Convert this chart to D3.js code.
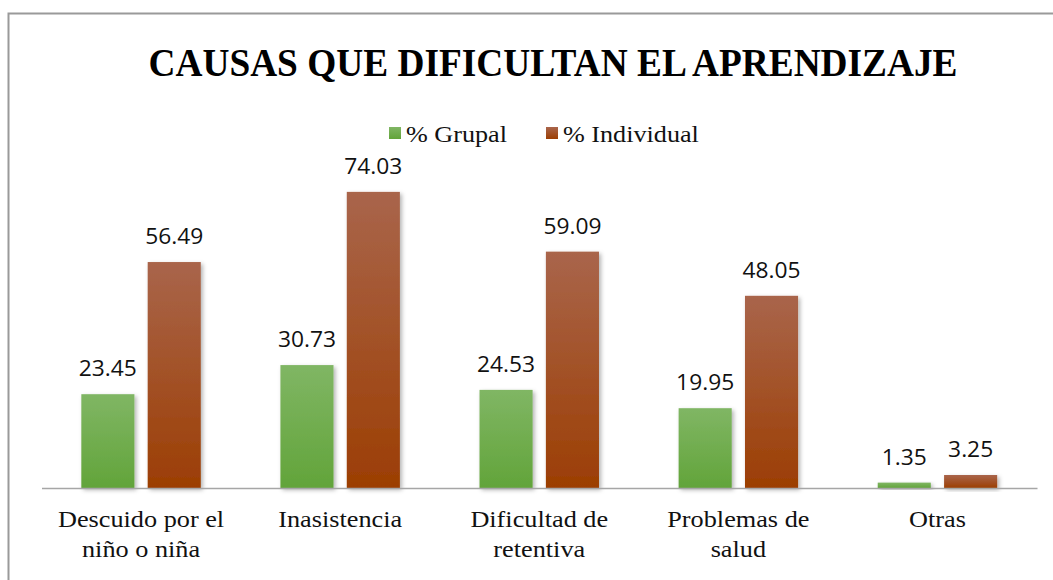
<!DOCTYPE html>
<html>
<head>
<meta charset="utf-8">
<script src="https://cdn.jsdelivr.net/npm/d3@7"></script>
<style>
  html, body { margin: 0; padding: 0; background: #fff; }
  svg { display: block; }
</style>
</head>
<body>
<svg id="chart" width="1053" height="580"></svg>
<script>
// Causes that make learning difficult, group vs. individual percentages
const categories = [["Descuido por el", "niño o niña"], ["Inasistencia"], ["Dificultad de", "retentiva"], ["Problemas de", "salud"], ["Otras"]];
const seriesNames = ["% Grupal", "% Individual"];
const grupal = [23.45, 30.73, 24.53, 19.95, 1.35];
const individual = [56.49, 74.03, 59.09, 48.05, 3.25];
const yDomain = [0, 80];

const W = 1053, H = 580;

// pick the first installed Times-like face
function firstInstalled(names, fallback) {
  const ctx = document.createElement("canvas").getContext("2d");
  const probe = "mmmmmmmmmmlliWWQQ@#Inasistencia";
  const w = f => { ctx.font = "72px " + f; return ctx.measureText(probe).width; };
  const mono = w("monospace"), sans = w("sans-serif");
  for (const n of names) {
    const a = w(`'${n}', monospace`), b = w(`'${n}', sans-serif`);
    if (a !== mono && b !== sans) return `'${n}', ${fallback}`;
  }
  return fallback;
}
const SERIF = firstInstalled(["Liberation Serif", "Tinos", "Times New Roman", "Times", "DejaVu Serif", "Noto Serif", "FreeSerif", "Nimbus Roman", "Nimbus Roman No9 L"], "serif");
const SANS = "'Open Sans', 'Liberation Sans', sans-serif";
const svg = d3.select("#chart");

const defs = svg.append("defs");
const grads = [
  { id: "gGreen", top: "#80b664", bottom: "#62a43a" },
  { id: "gBrown", top: "#a9654b", bottom: "#9c3e03" }
];
grads.forEach(g => {
  const lg = defs.append("linearGradient").attr("id", g.id)
    .attr("x1", 0).attr("y1", 0).attr("x2", 0).attr("y2", 1);
  lg.append("stop").attr("offset", "0%").attr("stop-color", g.top);
  lg.append("stop").attr("offset", "100%").attr("stop-color", g.bottom);
});
const f = defs.append("filter").attr("id", "shadow")
  .attr("x", "-20%").attr("y", "-20%").attr("width", "150%").attr("height", "150%");
f.append("feDropShadow").attr("dx", 2).attr("dy", 2).attr("stdDeviation", 2)
  .attr("flood-color", "#000").attr("flood-opacity", 0.3);

// outer frame
svg.append("path")
  .attr("d", `M8.5,${H} L8.5,13.5 L${W},13.5`)
  .attr("fill", "none").attr("stroke", "#9a9a9a").attr("stroke-width", 2);

// title
svg.append("text")
  .attr("x", 553).attr("y", 76)
  .attr("text-anchor", "middle")
  .attr("font-family", SERIF)
  .attr("font-weight", "bold").attr("font-size", 39)
  .attr("textLength", 809).attr("lengthAdjust", "spacingAndGlyphs")
  .text("CAUSAS QUE DIFICULTAN EL APRENDIZAJE");

// scales
const x0 = d3.scaleBand().domain(d3.range(categories.length))
  .range([41.5, 1037]).paddingInner(0.4).paddingOuter(0.2);
const x1 = d3.scaleBand().domain(seriesNames)
  .range([0, x0.bandwidth()]).paddingInner(0.2);
const y = d3.scaleLinear().domain(yDomain).range([488, 168]);

const data = categories.map((c, i) => ({ i, values: [grupal[i], individual[i]] }));
const fills = ["url(#gGreen)", "url(#gBrown)"];

const groups = svg.append("g").selectAll("g").data(data).join("g")
  .attr("transform", d => `translate(${x0(d.i)},0)`);

groups.selectAll("rect").data(d => d.values.map((v, k) => ({ v, k })))
  .join("rect")
  .attr("x", d => x1(seriesNames[d.k]))
  .attr("y", d => y(d.v))
  .attr("width", x1.bandwidth())
  .attr("height", d => y(0) - y(d.v))
  .attr("fill", d => fills[d.k])
  .attr("filter", "url(#shadow)");

groups.selectAll("text.val").data(d => d.values.map((v, k) => ({ v, k })))
  .join("text").attr("class", "val")
  .attr("transform", d => `translate(${x1(seriesNames[d.k]) + x1.bandwidth() / 2},${y(d.v) - 18}) scale(1.06,1)`)
  .attr("text-anchor", "middle")
  .attr("font-family", SANS)
  .attr("font-size", 21.5).attr("fill", "#111")
  .text(d => d.v.toFixed(2));

// baseline axis
const xAxis = d3.axisBottom(x0).tickSize(0).tickFormat("");
const ax = svg.append("g").attr("transform", `translate(0,${y(0)})`).call(xAxis);
ax.select(".domain").attr("stroke", "#a6a6a6").attr("stroke-width", 1.5);

// horizontal stretch so that a sample word reaches a given width
function stretchFor(sample, size, target, weight) {
  const t = svg.append("text").attr("font-family", SERIF).attr("font-size", size)
    .attr("font-weight", weight || "normal").text(sample);
  const w = t.node().getComputedTextLength();
  t.remove();
  return w > 0 ? target / w : 1;
}

// category labels
const catScale = stretchFor("Inasistencia", 24, 124);
const cat = svg.append("g").selectAll("text").data(categories).join("text")
  .attr("transform", (d, i) => `translate(${x0(i) + x0.bandwidth() / 2},527) scale(${catScale},1)`)
  .attr("text-anchor", "middle")
  .attr("font-family", SERIF)
  .attr("font-size", 24).attr("fill", "#111");
cat.selectAll("tspan").data(d => d).join("tspan")
  .attr("x", 0)
  .attr("dy", (d, k) => k === 0 ? 0 : 30)
  .text(d => d);

// legend
const legScale = stretchFor("% Grupal", 23, 101);
const legendItems = [
  { name: seriesNames[0], fill: "url(#gGreen)", sx: 389, tx: 406 },
  { name: seriesNames[1], fill: "url(#gBrown)", sx: 546, tx: 563 }
];
const lg = svg.append("g");
legendItems.forEach(it => {
  lg.append("rect").attr("x", it.sx).attr("y", 127).attr("width", 12).attr("height", 12).attr("fill", it.fill);
  lg.append("text").attr("transform", `translate(${it.tx},142) scale(${legScale},1)`)
    .attr("font-family", SERIF)
    .attr("font-size", 23).attr("fill", "#111")
    .text(it.name);
});
</script>
</body>
</html>
